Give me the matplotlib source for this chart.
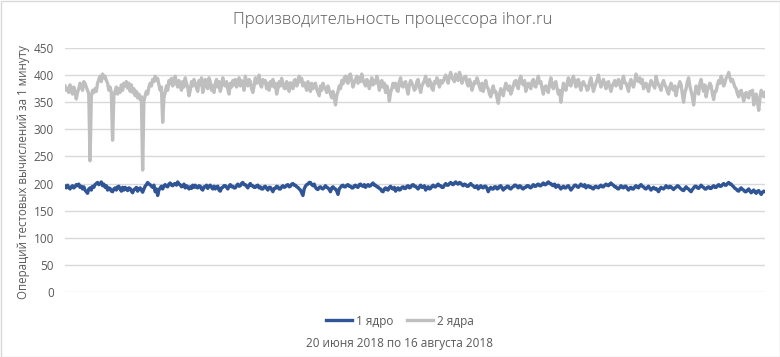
import numpy as np
import matplotlib
matplotlib.use("Agg")
import matplotlib.pyplot as plt
from matplotlib.lines import Line2D
from matplotlib.patches import Rectangle

title = "Производительность процессора ihor.ru"
ylabel = "Операций тестовых вычислений за 1 минуту"
xlabel = "20 июня 2018 по 16 августа 2018"
series_names = ["1 ядро", "2 ядра"]
yticks = [0, 50, 100, 150, 200, 250, 300, 350, 400, 450]

core2 = [
    380, 372, 376, 368, 382, 374, 365, 378,
    370, 356, 368, 375, 385, 380, 372, 388,
    385, 378, 372, 365, 242, 360, 372, 368,
    375, 370, 385, 392, 398, 388, 402, 395,
    398, 390, 385, 372, 378, 368, 280, 362,
    370, 378, 365, 375, 368, 382, 372, 385,
    380, 388, 376, 385, 370, 382, 368, 375,
    362, 370, 358, 365, 355, 360, 225, 352,
    362, 370, 365, 378, 385, 380, 392, 388,
    398, 390, 394, 382, 372, 378, 313, 358,
    368, 380, 372, 390, 384, 394, 380, 388,
    398, 385, 378, 390, 382, 372, 388, 378,
    395, 385, 378, 362, 372, 388, 380, 392,
    385, 376, 370, 390, 382, 395, 368, 378,
    392, 380, 375, 395, 388, 372, 380, 368,
    385, 392, 378, 388, 370, 380, 395, 382,
    380, 388, 374, 365, 385, 378, 390, 382,
    392, 378, 385, 395, 380, 390, 385, 372,
    398, 386, 380, 392, 388, 375, 368, 380,
    395, 385, 390, 400, 382, 378, 392, 386,
    390, 375, 385, 372, 388, 380, 392, 378,
    385, 365, 375, 388, 380, 394, 385, 376,
    375, 388, 380, 370, 386, 382, 375, 390,
    392, 380, 385, 398, 388, 394, 380, 386,
    380, 372, 388, 378, 370, 385, 375, 382,
    385, 374, 368, 362, 380, 372, 385, 378,
    375, 368, 380, 372, 365, 358, 370, 360,
    345, 362, 370, 380, 375, 390, 384, 395,
    398, 388, 385, 400, 402, 390, 378, 386,
    392, 398, 385, 395, 388, 402, 392, 385,
    380, 392, 388, 375, 385, 395, 382, 390,
    385, 398, 390, 372, 382, 390, 378, 385,
    368, 380, 372, 352, 368, 375, 385, 378,
    385, 372, 370, 388, 395, 380, 378, 386,
    388, 375, 365, 382, 390, 385, 380, 372,
    375, 388, 392, 378, 368, 380, 385, 390,
    398, 385, 380, 392, 386, 375, 372, 388,
    385, 395, 388, 378, 390, 385, 388, 395,
    400, 392, 385, 398, 405, 395, 392, 388,
    402, 395, 390, 405, 398, 385, 392, 396,
    398, 385, 380, 392, 385, 372, 380, 388,
    385, 395, 388, 378, 372, 385, 370, 380,
    390, 378, 375, 365, 360, 372, 380, 368,
    370, 358, 348, 365, 375, 368, 362, 375,
    385, 378, 372, 380, 365, 372, 380, 388,
    390, 380, 375, 392, 398, 385, 382, 390,
    370, 382, 385, 378, 375, 388, 392, 380,
    378, 390, 398, 385, 388, 375, 365, 378,
    380, 372, 368, 385, 395, 380, 375, 386,
    388, 375, 365, 372, 350, 368, 385, 378,
    372, 385, 395, 382, 380, 392, 398, 388,
    378, 390, 392, 380, 372, 385, 388, 382,
    380, 372, 375, 388, 395, 382, 370, 378,
    385, 392, 400, 388, 378, 385, 392, 384,
    375, 386, 388, 378, 370, 380, 385, 390,
    380, 388, 392, 382, 375, 390, 398, 386,
    385, 378, 370, 385, 392, 382, 378, 388,
    402, 392, 388, 395, 385, 392, 375, 382,
    385, 378, 370, 382, 390, 385, 380, 376,
    398, 388, 382, 378, 372, 385, 390, 382,
    378, 370, 365, 378, 385, 375, 372, 380,
    362, 375, 380, 388, 382, 365, 350, 368,
    375, 388, 395, 380, 370, 360, 345, 365,
    380, 372, 365, 385, 392, 378, 370, 382,
    360, 372, 378, 385, 380, 365, 355, 370,
    370, 382, 390, 385, 398, 390, 380, 386,
    395, 398, 405, 395, 388, 392, 385, 378,
    375, 365, 360, 370, 372, 362, 352, 365,
    368, 360, 358, 370, 365, 372, 345, 362,
    365, 350, 335, 358, 372, 365, 360, 368,
]

core1 = [
    195, 192, 197, 193, 190, 194, 196, 192,
    194, 198, 196, 199, 193, 195, 190, 194,
    188, 185, 182, 190, 192, 188, 195, 193,
    198, 200, 202, 198, 200, 203, 196, 199,
    193, 196, 188, 192, 191, 186, 185, 190,
    192, 188, 194, 195, 190, 186, 193, 188,
    193, 190, 187, 192, 191, 186, 183, 189,
    190, 193, 186, 190, 192, 188, 184, 190,
    195, 198, 202, 199, 198, 195, 193, 197,
    185, 190, 178, 188, 192, 195, 190, 196,
    198, 195, 194, 199, 201, 197, 196, 199,
    200, 197, 203, 199, 198, 194, 195, 199,
    192, 196, 194, 190, 194, 191, 197, 193,
    197, 193, 192, 196, 195, 190, 188, 194,
    194, 197, 191, 195, 197, 193, 190, 195,
    190, 194, 195, 188, 186, 192, 193, 196,
    196, 193, 190, 195, 198, 194, 195, 192,
    192, 196, 199, 195, 196, 200, 202, 198,
    198, 195, 192, 197, 200, 196, 196, 193,
    193, 196, 197, 192, 194, 190, 190, 194,
    195, 191, 188, 193, 193, 189, 185, 191,
    191, 195, 194, 190, 190, 194, 196, 193,
    194, 197, 198, 194, 195, 199, 200, 197,
    197, 194, 193, 190, 188, 183, 178, 190,
    195, 198, 199, 202, 202, 198, 196, 199,
    193, 190, 189, 193, 194, 191, 190, 193,
    196, 193, 192, 189, 185, 192, 194, 191,
    190, 186, 180, 190, 193, 196, 197, 194,
    194, 197, 198, 195, 195, 192, 192, 196,
    197, 194, 193, 198, 199, 196, 195, 198,
    193, 196, 198, 195, 196, 199, 201, 197,
    197, 194, 194, 191, 190, 186, 185, 190,
    192, 189, 188, 193, 195, 191, 190, 193,
    186, 190, 192, 188, 189, 193, 194, 191,
    191, 195, 196, 192, 193, 197, 198, 195,
    195, 192, 190, 194, 197, 193, 193, 196,
    188, 192, 194, 190, 191, 195, 197, 194,
    194, 197, 199, 196, 196, 193, 193, 197,
    200, 197, 197, 200, 202, 199, 198, 201,
    203, 200, 199, 202, 201, 198, 196, 199,
    198, 195, 195, 198, 200, 197, 196, 193,
    193, 196, 190, 193, 196, 193, 192, 195,
    195, 191, 185, 190, 193, 190, 190, 194,
    194, 190, 191, 195, 196, 192, 188, 192,
    192, 195, 195, 191, 190, 193, 194, 197,
    197, 194, 192, 196, 195, 191, 190, 193,
    193, 196, 196, 193, 192, 195, 198, 195,
    195, 198, 199, 196, 196, 199, 201, 198,
    198, 201, 203, 200, 200, 197, 196, 199,
    193, 196, 197, 193, 190, 193, 195, 192,
    192, 195, 196, 192, 188, 191, 194, 197,
    197, 194, 193, 196, 199, 196, 195, 198,
    192, 195, 196, 193, 194, 191, 190, 194,
    195, 193, 192, 195, 197, 194, 194, 197,
    199, 197, 196, 199, 201, 198, 197, 194,
    194, 191, 190, 193, 196, 193, 192, 195,
    195, 191, 188, 192, 193, 190, 190, 194,
    196, 193, 192, 196, 198, 195, 194, 191,
    190, 193, 195, 191, 188, 191, 193, 190,
    191, 188, 185, 190, 193, 191, 190, 193,
    196, 193, 192, 195, 194, 191, 189, 192,
    193, 196, 195, 192, 190, 188, 187, 191,
    194, 191, 190, 187, 185, 189, 192, 195,
    195, 192, 191, 194, 197, 194, 193, 190,
    190, 193, 194, 191, 191, 194, 196, 193,
    193, 196, 198, 195, 195, 198, 200, 197,
    197, 200, 202, 199, 199, 196, 194, 191,
    190, 187, 186, 190, 192, 189, 188, 185,
    185, 188, 190, 186, 183, 186, 188, 184,
    182, 186, 187, 183, 180, 184, 186, 185,
]

plt.rcParams['font.family'] = ['Open Sans', 'DejaVu Sans']
txt = '#595959'

fig = plt.figure(figsize=(7.8, 3.57), dpi=100)
ax = fig.add_axes([65/780, 1-292/357, 700/780, 244/357])

x1 = np.arange(len(core1))
x2 = np.arange(len(core2))
ax.plot(x1, core1, color='#2f5597', lw=2.4, solid_joinstyle='round', zorder=3)
ax.plot(x2, core2, color='#bfbfbf', lw=2.4, solid_joinstyle='round', zorder=2)

ax.set_xlim(0, len(core2) - 1)
ax.set_ylim(0, 450)
ax.set_yticks(yticks)
ax.set_xticks([])
ax.grid(axis='y', color='#d9d9d9', lw=1)
ax.set_axisbelow(True)
for s in ax.spines.values():
    s.set_visible(False)
ax.tick_params(axis='y', length=0, pad=8, labelsize=8.5, labelcolor=txt)

fig.text(24/780, 1-172/357, ylabel, rotation=90, ha='center', va='center',
         fontsize=8.3, color=txt)
fig.text(393/780, 1-20/357, title, ha='center', va='center', fontsize=12,
         color=txt, fontweight='light')
fig.text(400/780, 1-343/357, xlabel, ha='center', va='center', fontsize=8.5,
         color=txt)

handles = [Line2D([], [], color='#2f5597', lw=2.4),
           Line2D([], [], color='#bfbfbf', lw=2.4)]
fig.legend(handles, series_names, loc='center', bbox_to_anchor=(400/780, 1-321/357),
           ncol=2, frameon=False, fontsize=8.5, labelcolor=txt, handlelength=2.2,
           handletextpad=0.3, columnspacing=1.2)

fig.patches.append(Rectangle((0.5/780, 0.5/357), 1-1/780, 1-1/357,
                             transform=fig.transFigure, fill=False,
                             edgecolor='#d9d9d9', lw=1))

fig.savefig('out.png', dpi=100)
